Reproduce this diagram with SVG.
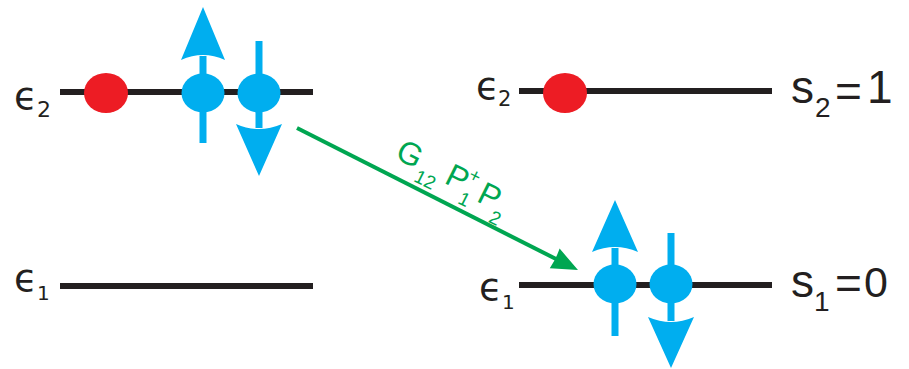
<svg xmlns="http://www.w3.org/2000/svg" width="909" height="369" viewBox="0 0 909 369">
<style>
.lvl{stroke:#231f20;stroke-width:6;fill:none}
.red{fill:#ed1c24}
.blue{fill:#00aeef}
.shaft{stroke:#00aeef;stroke-width:7;fill:none}
.eps{font-family:"DejaVu Sans","Liberation Sans",sans-serif;fill:#231f20}
.lab{font-family:"Liberation Sans",Arial,sans-serif;fill:#231f20}
.g{font-family:"Liberation Sans",Arial,sans-serif;fill:#00a651}
</style>
<rect width="909" height="369" fill="#ffffff"/>

<g id="left-e2">
<line class="lvl" x1="60" y1="92" x2="313" y2="92"/>
<text class="eps" x="14" y="109" font-size="38">ϵ</text>
<text class="eps" x="37" y="117" font-size="22">2</text>
<ellipse class="red" cx="106" cy="93" rx="22" ry="20"/>
<line class="shaft" x1="203" y1="56" x2="203" y2="143"/>
<path class="blue" d="M203,7 L225,60 Q203,50 181,60 Z"/>
<ellipse class="blue" cx="203" cy="93" rx="21.5" ry="19.5"/>
<line class="shaft" x1="259" y1="41" x2="259" y2="128"/>
<path class="blue" d="M259,176 L282,124 Q259,134 236,124 Z"/>
<ellipse class="blue" cx="259" cy="93" rx="21.5" ry="19.5"/>
</g>

<g id="left-e1">
<line class="lvl" x1="60" y1="286" x2="313" y2="286"/>
<text class="eps" x="14" y="291" font-size="38">ϵ</text>
<text class="eps" x="37" y="300" font-size="20">1</text>
</g>

<g id="right-e2">
<line class="lvl" x1="519" y1="91" x2="772" y2="91"/>
<text class="eps" x="476" y="99" font-size="38">ϵ</text>
<text class="eps" x="498" y="106" font-size="21">2</text>
<ellipse class="red" cx="565" cy="93" rx="22" ry="20"/>
<text class="lab" x="791" y="103" font-size="46">s</text>
<text class="lab" x="815" y="117" font-size="28">2</text>
<text class="lab" x="835" y="107" font-size="46">=</text>
<text class="lab" x="867" y="103" font-size="46">1</text>
</g>

<g id="right-e1">
<line class="lvl" x1="519" y1="285" x2="772" y2="285"/>
<text class="eps" x="479" y="300" font-size="38">ϵ</text>
<text class="eps" x="502" y="309" font-size="20">1</text>
<line class="shaft" x1="615" y1="248" x2="615" y2="336"/>
<path class="blue" d="M615,200 L638,252 Q615,242 592,252 Z"/>
<ellipse class="blue" cx="615" cy="284" rx="21.5" ry="19.5"/>
<line class="shaft" x1="671" y1="233" x2="671" y2="321"/>
<path class="blue" d="M671,368 L694,317 Q671,327 648,317 Z"/>
<ellipse class="blue" cx="671" cy="284" rx="21.5" ry="19.5"/>
<text class="lab" x="791" y="297" font-size="46">s</text>
<text class="lab" x="814" y="311" font-size="28">1</text>
<text class="lab" x="835" y="299" font-size="46">=</text>
<text class="lab" x="864" y="297" font-size="43">0</text>
</g>

<g id="connectors">
<line x1="297" y1="128" x2="558" y2="260" stroke="#00a651" stroke-width="4"/>
<path d="M578,270 L549.8,268.2 Q556,259 559.6,248.6 Z" fill="#00a651"/>
<g transform="translate(394,158) rotate(26.5)">
<text class="g" x="0" y="0" font-size="32">G</text>
<text class="g" x="27" y="12" font-size="19">12</text>
<text class="g" x="55" y="0" font-size="32">P</text>
<text class="g" x="75" y="-14" font-size="19">+</text>
<text class="g" x="76" y="12" font-size="19">1</text>
<text class="g" x="92" y="2" font-size="32">P</text>
<text class="g" x="112" y="15" font-size="19">2</text>
</g>
</g>
</svg>
